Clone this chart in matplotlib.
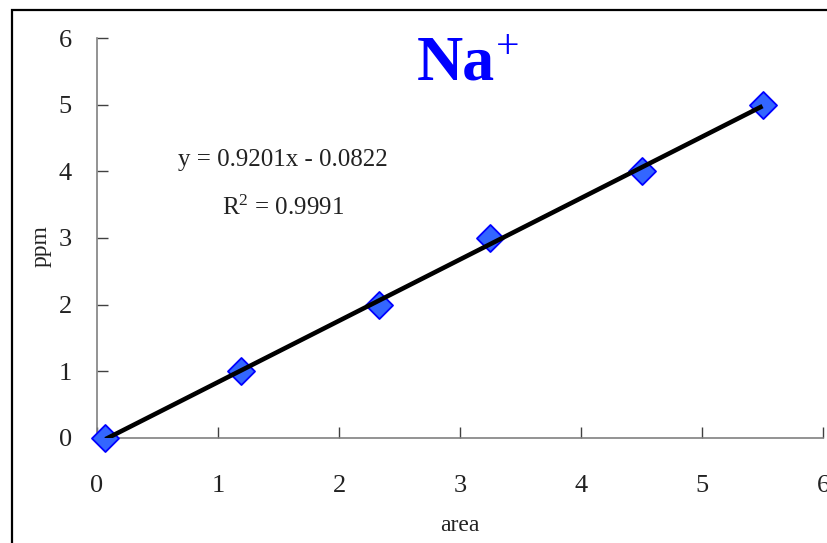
import matplotlib
matplotlib.use("Agg")
import matplotlib.pyplot as plt
from matplotlib.patches import Rectangle
import numpy as np

# Calibration data: peak area vs. sodium concentration
area = [0.07, 1.19, 2.33, 3.25, 4.50, 5.50]
ppm = [0, 1, 2, 3, 4, 5]

# Linear trendline coefficients
slope = 0.9201
intercept = -0.0822
r_squared = 0.9991

x_ticks = [0, 1, 2, 3, 4, 5, 6]
y_ticks = [0, 1, 2, 3, 4, 5, 6]

W, H = 827, 543
fig = plt.figure(figsize=(W / 100, H / 100), dpi=100)
plt.rcParams['font.family'] = ['Liberation Serif', 'DejaVu Serif']
plt.rcParams['mathtext.fontset'] = 'custom'
plt.rcParams['mathtext.rm'] = 'Liberation Serif'
plt.rcParams['mathtext.it'] = 'Liberation Serif:italic'
plt.rcParams['mathtext.bf'] = 'Liberation Serif:bold'

# outer chart frame (runs past the right and bottom edges)
fig.patches.append(Rectangle((12 / W, -0.2), 1.2, 1.2 - 10 / H, transform=fig.transFigure,
                             fill=False, edgecolor='black', linewidth=1.6))

ax = fig.add_axes([97 / W, (543 - 438) / H, (823 - 97) / W, (438 - 38) / H])
ax.set_xlim(0, 6)
ax.set_ylim(0, 6)
ax.set_xticks(x_ticks)
ax.set_yticks(y_ticks)
ax.set_xticklabels([str(v) for v in x_ticks])
ax.set_yticklabels([str(v) for v in y_ticks])

for side in ('top', 'right'):
    ax.spines[side].set_visible(False)
for side in ('left', 'bottom'):
    ax.spines[side].set_color('#808080')
    ax.spines[side].set_linewidth(1.2)

ax.tick_params(axis='both', direction='in', length=8, width=1, color='#404040',
               labelsize=19, labelcolor='#222222')
ax.tick_params(axis='x', pad=27)
ax.tick_params(axis='y', pad=18)

ax.scatter(area, ppm, marker='D', s=190, facecolor='#3366FF', edgecolor='#0000FF',
           linewidth=1.3, zorder=3, clip_on=False)

xf = np.array([min(area), max(area)])
ax.plot(xf, slope * xf + intercept, color='black', linewidth=3.3, zorder=4,
        solid_capstyle='butt')

ax.set_xlabel('area', fontsize=17, color='#222222')
ax.set_ylabel('ppm', fontsize=17, color='#222222')
ax.xaxis.set_label_coords(0.5, (438 - 515) / 400)
ax.yaxis.set_label_coords((52 - 97) / 726, 0.48)

ax.text(1.54, 4.17, f'y = {slope}x - {abs(intercept)}', fontsize=18, ha='center',
        va='center', color='#222222')
ax.text(1.54, 3.45, f'R$^2$ = {r_squared}', fontsize=18, ha='center', va='center',
        color='#222222')

ax.text(2.645, 5.38, 'Na', fontsize=46, fontweight='bold', color='#0000FF',
        ha='left', va='baseline')
ax.text(3.39, 5.86, '+', fontsize=30, color='#0000FF', ha='center', va='center')

fig.savefig('out.png', dpi=100)
